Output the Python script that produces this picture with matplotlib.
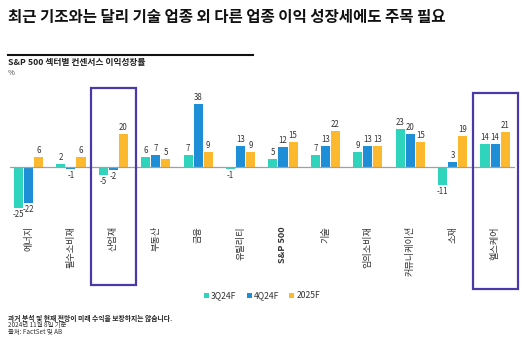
import matplotlib
matplotlib.use("Agg")
import matplotlib.pyplot as plt
from matplotlib.patches import Rectangle, Patch
import numpy as np

plt.rcParams['font.family'] = ['Noto Sans CJK KR', 'DejaVu Sans']

# 섹터별 컨센서스 이익성장률 (%)
sectors = ['에너지', '필수소비재', '산업재', '부동산', '금융', '유틸리티', 'S&P 500',
           '기술', '임의소비재', '커뮤니케이션', '소재', '헬스케어']
q3_24 = [-25, 2, -5, 6, 7, -1, 5, 7, 9, 23, -11, 14]
q4_24 = [-22, -1, -2, 7, 38, 13, 12, 13, 13, 20, 3, 14]
y2025 = [6, 6, 20, 5, 9, 9, 15, 22, 13, 15, 19, 21]
series_names = ['3Q24F', '4Q24F', '2025F']
highlight = ['산업재', '헬스케어']

colors = ['#2fd4bd', '#1e8ed6', '#fdb92e']
box_color = '#4a3aa6'

W, H = 530, 342
fig = plt.figure(figsize=(W / 100, H / 100), dpi=100)

# 축 영역 (픽셀 기준으로 배치)
ax_top, ax_bot = 85, 222
ax = fig.add_axes([10 / W, 1 - ax_bot / H, 505 / W, (ax_bot - ax_top) / H])
px_per_unit = 1.65
zero_px = 167
ax.set_ylim(-(ax_bot - zero_px) / px_per_unit, (zero_px - ax_top) / px_per_unit)
ax.set_xlim(-0.436, 11.47)

x = np.arange(len(sectors))
step = 0.238
width = 0.215
for k, (vals, c, name) in enumerate(zip([q3_24, q4_24, y2025], colors, series_names)):
    xs = x + (k - 1) * step
    ax.bar(xs, vals, width=width, color=c, label=name, zorder=2)
    for xi, v in zip(xs, vals):
        if v >= 0:
            ax.text(xi, v + 1.2, str(v), ha='center', va='bottom', fontsize=5.7,
                    color='#333333')
        else:
            ax.text(xi, v - 1.2, str(v), ha='center', va='top', fontsize=5.7,
                    color='#333333')

ax.axhline(0, color='#a0a0a0', lw=0.9, zorder=3)
for s in ax.spines.values():
    s.set_visible(False)
ax.set_yticks([])
ax.set_xticks(x)
ax.set_xticklabels(sectors, rotation=90, fontsize=6.6, color='#333333', va='top')
ax.tick_params(axis='x', length=0, pad=3)
for lbl in ax.get_xticklabels():
    if lbl.get_text() == 'S&P 500':
        lbl.set_fontweight('bold')

# 강조 섹터 박스
for name, (top_px, bot_px) in zip(highlight, [(88, 285), (93, 289)]):
    i = sectors.index(name)
    ylo = (zero_px - bot_px) / px_per_unit
    yhi = (zero_px - top_px) / px_per_unit
    ax.add_patch(Rectangle((i - 0.52, ylo), 1.06, yhi - ylo, fill=False,
                           edgecolor=box_color, lw=1.6, clip_on=False, zorder=4))

# 제목과 부제
fig.text(8 / W, 1 - 17 / H, '최근 기조와는 달리 기술 업종 외 다른 업종 이익 성장세에도 주목 필요',
         fontsize=11.2, fontweight='bold', va='center', ha='left', color='#111111')
fig.add_artist(plt.Line2D([8 / W, 253 / W], [1 - 55 / H, 1 - 55 / H],
                          color='#111111', lw=1.5))
fig.text(8 / W, 1 - 63 / H, 'S&P 500 섹터별 컨센서스 이익성장률', fontsize=6.3,
         fontweight='bold', va='center', ha='left', color='#222222')
fig.text(8 / W, 1 - 73 / H, '%', fontsize=5.5, va='center', ha='left', color='#444444')

# 범례
handles = [Patch(facecolor=c, label=n) for c, n in zip(colors, series_names)]
fig.legend(handles=handles, loc='center', bbox_to_anchor=(262 / W, 1 - 296 / H),
           ncol=3, frameon=False, fontsize=6.2, handlelength=0.6, handleheight=0.6,
           handletextpad=0.2, columnspacing=1.2, labelcolor='#333333')

# 주석
fig.text(8 / W, 1 - 318 / H, '과거 분석 및 현재 전망이 미래 수익을 보장하지는 않습니다.',
         fontsize=4.9, fontweight='bold', va='center', ha='left', color='#222222')
fig.text(8 / W, 1 - 325 / H, '2024년 11월 8일 기준', fontsize=4.6, va='center',
         ha='left', color='#333333')
fig.text(8 / W, 1 - 332 / H, '출처: FactSet 및 AB', fontsize=4.6, va='center',
         ha='left', color='#333333')

fig.savefig('out.png', dpi=100, facecolor='white')
